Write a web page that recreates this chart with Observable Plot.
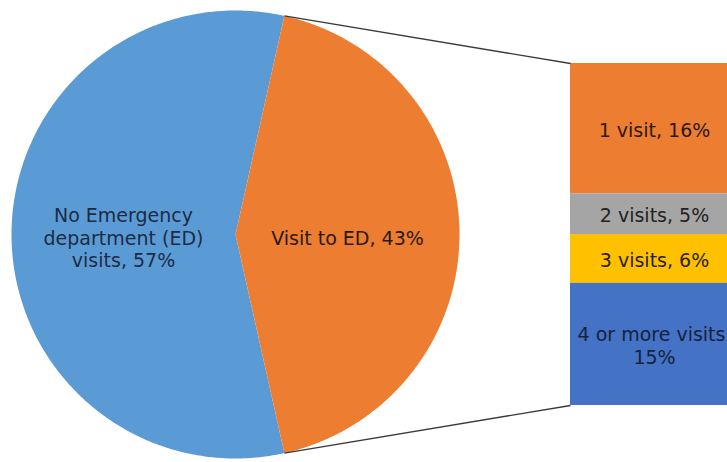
<!DOCTYPE html>
<html>
<head>
<meta charset="utf-8">
<script src="https://cdn.jsdelivr.net/npm/d3@7"></script>
<script src="https://cdn.jsdelivr.net/npm/@observablehq/plot@0.6"></script>
<style>
  body { margin: 0; background: #fff; }
  #chart svg { display: block; }
</style>
</head>
<body>
<div id="chart"></div>
<script>
// ---- data ----
const pieCategories = ["No Emergency department (ED) visits", "Visit to ED"];
const pieValues = [57, 43];
const pieLabels = ["No Emergency\ndepartment (ED)\nvisits, 57%", "Visit to ED, 43%"];

const barCategories = ["1 visit", "2 visits", "3 visits", "4 or more visits"];
const barValues = [16, 5, 6, 15];
const barLabels = ["1 visit, 16%", "2 visits, 5%", "3 visits, 6%", "4 or more visits,\n15%"];

// ---- styles ----
const pieColors = ["#5B9BD5", "#ED7D31"];
const pieTextColors = ["#1d2b45", "#2a1a0e"];
const barColors = ["#ED7D31", "#A5A5A5", "#FFC000", "#4472C4"];
const barTextColors = ["#2a1a0e", "#222222", "#2a2208", "#16223d"];

// ---- layout ----
const W = 727, H = 462;
const cx = 235, cy = 234, R = 224;
const barX1 = 570, barX2 = 740, barTop = 63, barBottom = 405;
const fontSize = 19;

// pie geometry: the exploded slice ("Visit to ED") is centred on the right (angle 0)
const total = d3.sum(pieValues);
const half = Math.PI * pieValues[1] / total;
const sliceAngles = [
  [half, 2 * Math.PI - half],   // No ED visits
  [-half, half]                 // Visit to ED
];
const pts = (a) => [cx + R * Math.cos(a), cy + R * Math.sin(a)];

const piePoly = [];
sliceAngles.forEach(([a0, a1], i) => {
  piePoly.push({name: pieCategories[i], x: cx, y: cy, color: pieColors[i]});
  const n = Math.ceil((a1 - a0) / (Math.PI / 360));
  for (let k = 0; k <= n; k++) {
    const [x, y] = pts(a0 + (a1 - a0) * k / n);
    piePoly.push({name: pieCategories[i], x, y, color: pieColors[i]});
  }
});

const pieText = pieCategories.map((c, i) => {
  const [a0, a1] = sliceAngles[i];
  const m = (a0 + a1) / 2;
  return {label: pieLabels[i], x: cx + 0.5 * R * Math.cos(m), y: cy + 0.5 * R * Math.sin(m) + 3, fill: pieTextColors[i]};
});

// bar (stacked) geometry
const barSum = d3.sum(barValues);
const k = (barBottom - barTop) / barSum;
const cum = [0, ...d3.cumsum(barValues)];
const barData = barCategories.map((c, i) => ({
  name: c,
  label: barLabels[i],
  y1: barTop + cum[i] * k,
  y2: barTop + cum[i + 1] * k,
  fill: barColors[i],
  text: barTextColors[i]
}));

// connectors
const [tx, ty] = pts(-half);
const [bx, by] = pts(half);
const links = [
  {x1: tx, y1: ty, x2: barX1, y2: barTop},
  {x1: bx, y1: by, x2: barX1, y2: barBottom}
];

const chart = Plot.plot({
  width: W,
  height: H,
  margin: 0,
  x: {type: "identity", axis: null},
  y: {type: "identity", axis: null},
  color: {type: "identity"},
  style: {fontFamily: "DejaVu Sans, Verdana, sans-serif", background: "#fff"},
  marks: [
    Plot.line(piePoly, {x: "x", y: "y", z: "name", fill: "color", stroke: "none", curve: "linear-closed"}),
    Plot.rect(barData, {x1: barX1, x2: barX2, y1: "y1", y2: "y2", fill: "fill"}),
    Plot.link(links, {x1: "x1", y1: "y1", x2: "x2", y2: "y2", stroke: "#3a3a3a", strokeWidth: 1.4}),
    Plot.text(pieText, {x: "x", y: "y", text: "label", fill: "fill", fontSize, lineHeight: 1.18}),
    Plot.text(barData, {x: (barX1 + barX2) / 2 - 1, y: d => (d.y1 + d.y2) / 2 + 1, text: "label", fill: "text", fontSize, lineHeight: 1.18})
  ]
});
document.getElementById("chart").appendChild(chart);
</script>
</body>
</html>
